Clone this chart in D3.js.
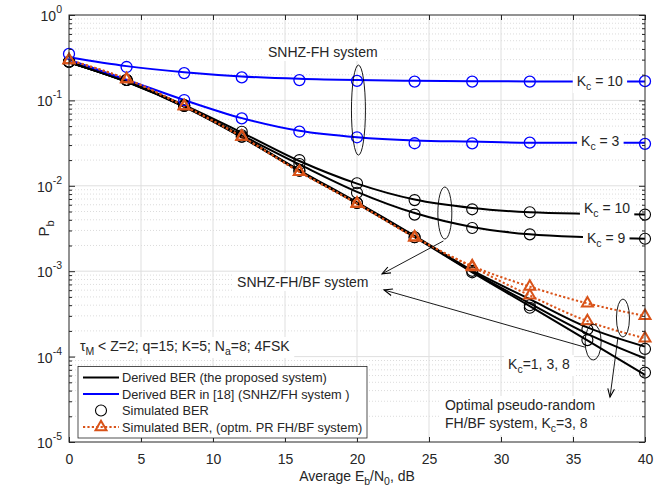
<!DOCTYPE html>
<html><head><meta charset="utf-8">
<script src="https://cdn.jsdelivr.net/npm/d3@7"></script>
<style>
body{margin:0;background:#fff}
svg{display:block}
text{font-family:"Liberation Sans",Arial,Helvetica,sans-serif;fill:#262626}
</style>
</head><body>
<svg id="c" width="664" height="487"></svg>
<script>
// ---------- data ----------
const snr = [0, 4, 8, 12, 16, 20, 24, 28, 32, 36, 40];
const xTicks = [0, 5, 10, 15, 20, 25, 30, 35, 40];
const yTickExps = [0, -1, -2, -3, -4, -5];

// Derived BER in [18] (SNHZ/FH system), blue lines
const blueDerivedKc10 = [0.32, 0.252, 0.214, 0.191, 0.179, 0.173, 0.170, 0.168, 0.167, 0.167, 0.167];
const blueDerivedKc3  = [0.30, 0.175, 0.101, 0.062, 0.044, 0.037, 0.034, 0.033, 0.032, 0.032, 0.032];
// Simulated (blue circles)
const blueSimKc10X = [0, 4, 8, 12, 16, 20, 24, 28, 32, 40];
const blueSimKc10  = [0.35, 0.246, 0.209, 0.186, 0.173, 0.169, 0.166, 0.166, 0.166, 0.168];
const blueSimKc3X  = [8, 12, 16, 20, 24, 28, 32, 40];
const blueSimKc3   = [0.101, 0.0616, 0.043, 0.037, 0.0315, 0.0314, 0.032, 0.031];

// Derived BER (proposed system), black lines
const blackDerivedKc10 = [0.28, 0.168, 0.088, 0.042, 0.0195, 0.0106, 0.0069, 0.0055, 0.0049, 0.0047, 0.0046];
const blackDerivedKc9  = [0.28, 0.167, 0.087, 0.039, 0.0178, 0.0085, 0.0048, 0.0033, 0.0027, 0.0025, 0.0024];
const blackDerivedKc1  = [0.28, 0.166, 0.085, 0.0375, 0.0152, 0.0064, 0.0026, 0.00102, 0.00047, 0.00022, 0.000131];
const blackDerivedKc3  = [0.28, 0.166, 0.085, 0.0373, 0.0150, 0.0063, 0.00255, 0.00099, 0.00042, 0.000185, 0.0000955];
const blackDerivedKc8  = [0.28, 0.165, 0.084, 0.0370, 0.0148, 0.0062, 0.0025, 0.00097, 0.00039, 0.000155, 0.000061];
// Simulated (black circles)
const blackSimFloorX = [0, 4, 8, 12, 16, 20, 24, 28, 32, 40];
const blackSimKc10   = [0.284, 0.173, 0.088, 0.043, 0.020, 0.0107, 0.0068, 0.0053, 0.0049, 0.0046];
const blackSimKc9    = [0.284, 0.173, 0.087, 0.039, 0.018, 0.0083, 0.0046, 0.0032, 0.0027, 0.0024];
const blackSimLowA   = [0.284, 0.173, 0.086, 0.0376, 0.015, 0.0063, 0.0025, 0.00101, 0.00040, 0.000209, 0.000123];
const blackSimLowB   = [0.284, 0.173, 0.086, 0.0376, 0.015, 0.0063, 0.0025, 0.00097, 0.000374, 0.000156, 0.000065];

// Simulated BER, optimal PR FH/BF system (orange triangles)
const prSimKc3 = [0.297, 0.178, 0.086, 0.0376, 0.0146, 0.0062, 0.0025, 0.00115, 0.00066, 0.00042, 0.00030];
const prSimKc8 = [0.297, 0.178, 0.086, 0.0376, 0.0146, 0.0062, 0.0025, 0.00112, 0.00052, 0.00026, 0.000164];

const legendLabels = ["Derived BER (the proposed system)", "Derived BER in [18] (SNHZ/FH system )",
                      "Simulated BER", "Simulated BER, (optm. PR FH/BF system)"];

// ---------- setup ----------
const BLUE = "#0000ff", BLACK = "#000000", ORANGE = "#D95319", AX = "#262626";
const svg = d3.select("#c");
const L = 69, R = 645, T = 15, B = 442;
const x = d3.scaleLinear().domain([0, 40]).range([L, R]);
const y = d3.scaleLog().domain([1e-5, 1]).range([B, T]);

// grid
const minors = [];
yTickExps.slice(0, -1).forEach(e => { for (let k = 2; k <= 9; k++) minors.push(k * Math.pow(10, e - 1)); });
const grid = svg.append("g");
grid.selectAll(".mg").data(minors).join("line")
  .attr("x1", L).attr("x2", R).attr("y1", d => y(d)).attr("y2", d => y(d))
  .attr("stroke", "#c4c4c4").attr("stroke-width", 0.6).attr("stroke-dasharray", "1,2");
grid.selectAll(".gx").data(xTicks.slice(1, -1)).join("line")
  .attr("x1", d => x(d)).attr("x2", d => x(d)).attr("y1", T).attr("y2", B)
  .attr("stroke", "#dfdfdf").attr("stroke-width", 1);
grid.selectAll(".gy").data(yTickExps.slice(1, -1).map(e => Math.pow(10, e))).join("line")
  .attr("x1", L).attr("x2", R).attr("y1", d => y(d)).attr("y2", d => y(d))
  .attr("stroke", "#dfdfdf").attr("stroke-width", 1);

// ---------- series ----------
const line = d3.line().x(d => x(d[0])).y(d => y(d[1])).curve(d3.curveMonotoneX);
const zipS = (xs, ys) => xs.map((v, i) => [v, ys[i]]);
const plot = svg.append("g");

function drawLine(vals, color, dash) {
  plot.append("path").datum(zipS(snr, vals)).attr("d", line)
    .attr("fill", "none").attr("stroke", color).attr("stroke-width", 2)
    .attr("stroke-dasharray", dash || null);
}
[blackDerivedKc10, blackDerivedKc9, blackDerivedKc1, blackDerivedKc3, blackDerivedKc8].forEach(v => drawLine(v, BLACK));
[blueDerivedKc10, blueDerivedKc3].forEach(v => drawLine(v, BLUE));
[prSimKc3, prSimKc8].forEach(v => drawLine(v, ORANGE, "2.2,2.2"));

function drawCircles(xs, ys, color, sw) {
  plot.append("g").selectAll("circle").data(zipS(xs, ys)).join("circle")
    .attr("cx", d => x(d[0])).attr("cy", d => y(d[1])).attr("r", 5.5)
    .attr("fill", "none").attr("stroke", color).attr("stroke-width", sw);
}
drawCircles(blackSimFloorX, blackSimKc10, BLACK, 1.1);
drawCircles(blackSimFloorX, blackSimKc9, BLACK, 1.1);
drawCircles(snr, blackSimLowA, BLACK, 1.1);
drawCircles(snr, blackSimLowB, BLACK, 1.1);
drawCircles(blueSimKc10X, blueSimKc10, BLUE, 1.3);
drawCircles(blueSimKc3X, blueSimKc3, BLUE, 1.3);

const tri = d3.symbol().type(d3.symbolTriangle).size(52);
function drawTris(vals) {
  plot.append("g").selectAll("path").data(zipS(snr, vals)).join("path")
    .attr("d", tri).attr("transform", d => `translate(${x(d[0])},${y(d[1])})`)
    .attr("fill", "none").attr("stroke", ORANGE).attr("stroke-width", 2);
}
drawTris(prSimKc3); drawTris(prSimKc8);

// ---------- annotations ----------
const ann = svg.append("g");
const ellipses = [
  {x: 20.1, y: 0.077, rx: 7, ry: 45},
  {x: 26.1, y: 0.0048, rx: 7, ry: 26},
  {x: 36.4, y: 0.000148, rx: 8, ry: 18},
  {x: 38.47, y: 0.000283, rx: 6.5, ry: 19}
];
ann.selectAll("ellipse").data(ellipses).join("ellipse")
  .attr("cx", d => x(d.x)).attr("cy", d => y(d.y)).attr("rx", d => d.rx).attr("ry", d => d.ry)
  .attr("fill", "none").attr("stroke", BLACK).attr("stroke-width", 0.9);

const arrows = [
  {x1: 26.0, y1: 0.00226, x2: 21.74, y2: 0.00093},
  {x1: 35.83, y1: 0.000129, x2: 21.875, y2: 0.000603},
  {x1: 38.125, y1: 0.000170, x2: 37.57, y2: 0.0000336}
];
arrows.forEach(a => {
  const X1 = x(a.x1), Y1 = y(a.y1), X2 = x(a.x2), Y2 = y(a.y2);
  ann.append("line").attr("x1", X1).attr("y1", Y1).attr("x2", X2).attr("y2", Y2)
    .attr("stroke", BLACK).attr("stroke-width", 0.9);
  const ang = Math.atan2(Y2 - Y1, X2 - X1), h = 9, w = 0.38;
  const p1 = [X2 - h * Math.cos(ang - w), Y2 - h * Math.sin(ang - w)];
  const p2 = [X2 - h * Math.cos(ang + w), Y2 - h * Math.sin(ang + w)];
  ann.append("path").attr("d", `M${p1}L${X2},${Y2}L${p2}`)
    .attr("fill", "none").attr("stroke", BLACK).attr("stroke-width", 1.1);
});

// text labels with white background
const txt = svg.append("g");
function label(parts, xd, yd, size, bg) {
  const g = txt.append("g");
  const t = g.append("text").attr("x", x(xd)).attr("y", y(yd)).attr("font-size", size);
  parts.forEach(p => {
    const s = t.append("tspan").text(p.t);
    if (p.sub) s.attr("dy", 4).attr("font-size", size * 0.75);
    if (p.back) s.attr("dy", -4);
  });
  if (bg) {
    const b = t.node().getBBox();
    g.insert("rect", "text").attr("x", b.x - 4).attr("y", b.y - 1).attr("width", b.width + 8).attr("height", b.height + 2)
      .attr("fill", "#fff");
  }
}
label([{t: "SNHZ-FH system"}], 13.82, 0.322, 14, true);
label([{t: "SNHZ-FH/BF system"}], 11.67, 0.000653, 14, true);
label([{t: "K"}, {t: "c", sub: 1}, {t: " = 10", back: 1}], 35.26, 0.1475, 14, true);
label([{t: "K"}, {t: "c", sub: 1}, {t: " = 3", back: 1}], 35.56, 0.0292, 14, true);
label([{t: "K"}, {t: "c", sub: 1}, {t: " = 10", back: 1}], 35.76, 0.00481, 14, true);
label([{t: "K"}, {t: "c", sub: 1}, {t: " = 9", back: 1}], 35.97, 0.00214, 14, true);
label([{t: "K"}, {t: "c", sub: 1}, {t: "=1, 3, 8", back: 1}], 30.49, 0.0000716, 14, true);
label([{t: "Optimal pseudo-random"}], 26.11, 0.0000237, 14, true);
label([{t: "FH/BF system, K"}, {t: "c", sub: 1}, {t: "=3, 8", back: 1}], 26.11, 0.0000146, 14, true);
label([{t: "τ"}, {t: "M", sub: 1}, {t: " < Z=2; q=15; K=5; N", back: 1}, {t: "a", sub: 1}, {t: "=8; 4FSK", back: 1}], 0.76, 0.0001164, 14, true);

// ---------- axes ----------
const axG = svg.append("g");
axG.append("rect").attr("x", L).attr("y", T).attr("width", R - L).attr("height", B - T)
  .attr("fill", "none").attr("stroke", AX).attr("stroke-width", 1);
const xb = axG.append("g").attr("transform", `translate(0,${B})`)
  .call(d3.axisBottom(x).tickValues(xTicks).tickSize(-5).tickPadding(12).tickFormat(d3.format("d")));
axG.append("g").attr("transform", `translate(0,${T})`)
  .call(d3.axisTop(x).tickValues(xTicks).tickSize(-5).tickFormat(""));
axG.append("g").attr("transform", `translate(${L},0)`)
  .call(d3.axisLeft(y).tickValues(yTickExps.map(e => Math.pow(10, e))).tickSize(-6).tickFormat(""));
axG.append("g").attr("transform", `translate(${L},0)`)
  .call(d3.axisLeft(y).tickValues(minors).tickSize(-3).tickFormat(""));
axG.append("g").attr("transform", `translate(${R},0)`)
  .call(d3.axisRight(y).tickValues(yTickExps.map(e => Math.pow(10, e))).tickSize(-6).tickFormat(""));
axG.append("g").attr("transform", `translate(${R},0)`)
  .call(d3.axisRight(y).tickValues(minors).tickSize(-3).tickFormat(""));
axG.selectAll(".domain").remove();
axG.selectAll(".tick line").attr("stroke", AX);
xb.selectAll(".tick text").attr("font-size", 14).attr("fill", AX)
  .attr("font-family", '"Liberation Sans",Arial,sans-serif');

yTickExps.forEach(e => {
  const t = axG.append("text").attr("x", L - 7).attr("y", y(Math.pow(10, e)) + 6)
    .attr("text-anchor", "end").attr("font-size", 14);
  t.append("tspan").text("10");
  t.append("tspan").text(String(e)).attr("font-size", 10.5).attr("dy", -8);
});

const xtitle = svg.append("text").attr("x", (L + R) / 2).attr("y", 481).attr("text-anchor", "middle").attr("font-size", 14);
xtitle.append("tspan").text("Average E");
xtitle.append("tspan").text("b").attr("font-size", 10.5).attr("dy", 4);
xtitle.append("tspan").text("/N").attr("dy", -4);
xtitle.append("tspan").text("0").attr("font-size", 10.5).attr("dy", 4);
xtitle.append("tspan").text(", dB").attr("dy", -4);

const ytitle = svg.append("text").attr("transform", `translate(49,${(T + B) / 2}) rotate(-90)`)
  .attr("text-anchor", "middle").attr("font-size", 15);
ytitle.append("tspan").text("P");
ytitle.append("tspan").text("b").attr("font-size", 11).attr("dy", 5);

// ---------- legend ----------
const lg = svg.append("g");
lg.append("rect").attr("x", 78).attr("y", 366.5).attr("width", 289).attr("height", 71.5)
  .attr("fill", "#fff").attr("stroke", AX).attr("stroke-width", 0.8);
const rowY = i => 377.5 + i * 16.5;
const lx1 = 83, lx2 = 119, lmx = 101;
lg.append("line").attr("x1", lx1).attr("x2", lx2).attr("y1", rowY(0)).attr("y2", rowY(0)).attr("stroke", BLACK).attr("stroke-width", 2);
lg.append("line").attr("x1", lx1).attr("x2", lx2).attr("y1", rowY(1)).attr("y2", rowY(1)).attr("stroke", BLUE).attr("stroke-width", 2);
lg.append("circle").attr("cx", lmx).attr("cy", rowY(2)).attr("r", 5.5).attr("fill", "none").attr("stroke", BLACK).attr("stroke-width", 1.1);
lg.append("line").attr("x1", lx1).attr("x2", lx2).attr("y1", rowY(3)).attr("y2", rowY(3)).attr("stroke", ORANGE).attr("stroke-width", 2).attr("stroke-dasharray", "2.2,2.2");
lg.append("path").attr("d", tri).attr("transform", `translate(${lmx},${rowY(3)})`).attr("fill", "none").attr("stroke", ORANGE).attr("stroke-width", 2);
legendLabels.forEach((s, i) => {
  lg.append("text").attr("x", 122).attr("y", rowY(i) + 4.5).attr("font-size", 12.8).text(s);
});
</script>
</body></html>
